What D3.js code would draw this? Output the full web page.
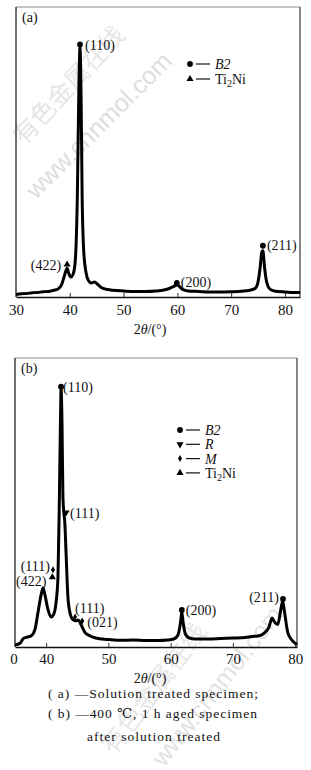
<!DOCTYPE html>
<html>
<head>
<meta charset="utf-8">
<script src="https://cdn.jsdelivr.net/npm/d3@7"></script>
<style>
  body { margin: 0; background: #fff; }
  svg { display: block; font-family: "Liberation Serif", "DejaVu Serif", serif; }
</style>
</head>
<body>
<div id="container"></div>
<script>
/* DATA */
// panel (a): solution treated, [2theta, intensity]
const scanA = [
  [30, 1.0], [31, 1.3], [32, 1.4], [33, 1.7], [34, 1.8], [35, 2.1], [36, 2.2], [37, 2.7],
  [37.8, 3.2], [38.5, 5], [39.0, 8.5], [39.5, 11.5], [39.8, 9.5], [40.2, 8], [40.6, 9],
  [41.0, 14], [41.4, 40], [41.7, 85], [41.9, 100], [42.1, 80], [42.3, 40], [42.6, 18],
  [43.0, 10], [43.5, 6.5], [44.0, 5.6], [44.6, 6.0], [45.2, 5.0], [46, 3.6], [47, 3.0],
  [48, 2.7], [50, 2.4], [52, 2.2], [54, 2.2], [56, 2.4], [57.5, 2.8], [58.5, 3.4],
  [59.3, 4.2], [59.9, 4.8], [60.4, 4.2], [61, 3.0], [62, 2.4], [64, 2.2], [66, 2.0],
  [68, 2.0], [70, 2.1], [72, 2.3], [73.5, 2.7], [74.5, 3.5], [75.0, 6], [75.4, 12],
  [75.7, 18], [75.9, 18.5], [76.2, 12], [76.6, 6], [77.2, 3.2], [78, 2.4], [80, 2.0],
  [82, 1.8], [82.8, 1.8]
];
// panel (b): 400 C, 1 h aged
const scanB = [
  [35, 0.8], [35.8, 1.5], [36.4, 3.5], [37.0, 4.0], [37.6, 4.5], [38.2, 7], [38.7, 14],
  [39.2, 21], [39.5, 23.7], [39.8, 21], [40.3, 15], [40.8, 12], [41.2, 13], [41.6, 18],
  [41.9, 28], [42.1, 55], [42.3, 90], [42.4, 103.6], [42.55, 90], [42.7, 60], [42.85, 54],
  [43.0, 50], [43.2, 38], [43.5, 20], [43.9, 13], [44.3, 11], [44.8, 10.5], [45.2, 10.8],
  [45.6, 9], [46.2, 6], [47, 4.5], [48, 3.6], [49, 3.2], [50, 3.0], [52, 2.7], [54, 2.8],
  [56, 2.6], [58, 2.6], [59.5, 2.8], [60.5, 3.2], [61.2, 5], [61.6, 10], [61.8, 14],
  [62.0, 10], [62.4, 5], [63, 3.6], [64, 3.2], [66, 3.2], [68, 3.4], [70, 3.6], [72, 3.8],
  [73, 4.2], [74, 4.4], [75, 5.5], [75.8, 8], [76.3, 11.6], [76.7, 10], [77.2, 9],
  [77.7, 15], [78.0, 18.5], [78.3, 14], [78.8, 6], [79.4, 3], [80, 1.5], [80.3, 1.0]
];
// peak markers: [2theta, intensity, phase, label]
const peaksA = [
  [41.9, 101, "B2", "(110)"],
  [39.5, 13, "Ti2Ni", "(422)"],
  [59.9, 5.6, "B2", "(200)"],
  [75.9, 20.5, "B2", "(211)"]
];
const peaksB = [
  [42.4, 104.5, "B2", "(110)"],
  [43.2, 54, "R", "(111)"],
  [41.1, 31, "M", "(111)"],
  [41.0, 28, "Ti2Ni", "(422)"],
  [44.65, 12, "M", "(111)"],
  [45.8, 10.4, "M", "(021)"],
  [61.8, 14.9, "B2", "(200)"],
  [78.05, 19.3, "B2", "(211)"]
];
const phasesA = ["B2", "Ti2Ni"];
const phasesB = ["B2", "R", "M", "Ti2Ni"];
const ticks = [30, 40, 50, 60, 70, 80];
const captionLines = [
  "( a) —Solution treated specimen;",
  "( b) —400 ℃, 1 h aged specimen",
  "after solution treated"
];

/* LAYOUT */
const W = 311, H = 770;
const svg = d3.select("#container").append("svg")
  .attr("width", W).attr("height", H);
svg.append("rect").attr("width", W).attr("height", H).attr("fill", "#fff");

// WATERMARKS (faint)
const wm = svg.append("g").attr("fill", "#e3e3e3")
  .style("font-family", "'Noto Sans CJK SC', sans-serif");
wm.append("text").attr("transform", "translate(24,146) rotate(-47)")
  .style("font-size", "25px").attr("fill", "#e6e6e6").text("有色金属在线");
wm.append("text").attr("transform", "translate(36,200) rotate(-45)")
  .style("font-size", "25px").style("font-family", "Arial, 'Liberation Sans', sans-serif")
  .attr("fill", "#dedede").text("www.cnnmol.com");
wm.append("text").attr("transform", "translate(114,756) rotate(-53)")
  .style("font-size", "26px").attr("fill", "#e8e8e8").text("有色金属在线");
wm.append("text").attr("transform", "translate(164,768) rotate(-52)")
  .style("font-size", "25px").style("font-family", "Arial, 'Liberation Sans', sans-serif")
  .attr("fill", "#e2e2e2").text("www.cnnmol.com");

const symbolFor = {
  B2: d3.symbol().type(d3.symbolCircle).size(26),
  R: d3.symbol().type(d3.symbolTriangle).size(22),
  M: d3.symbol().type(d3.symbolDiamond).size(14),
  Ti2Ni: d3.symbol().type(d3.symbolTriangle).size(22)
};
const rotFor = { B2: 0, R: 180, M: 0, Ti2Ni: 0 };

function phaseText(sel, p) {
  if (p === "Ti2Ni") {
    sel.append("tspan").text("Ti");
    sel.append("tspan").attr("dy", 3).style("font-size", "10px").text("2");
    sel.append("tspan").attr("dy", -3).text("Ni");
  } else {
    sel.append("tspan").style("font-style", "italic").text(p);
  }
}

function panel(cfg) {
  const x = d3.scaleLinear().domain(cfg.xDomain).range([cfg.left, cfg.right]);
  const y = d3.scaleLinear().domain([0, 116]).range([cfg.bottom, cfg.top]);
  const g = svg.append("g");

  // frame
  g.append("line").attr("x1", cfg.left).attr("x2", cfg.right)
    .attr("y1", cfg.top).attr("y2", cfg.top).attr("stroke", "#8a8a8a").attr("stroke-width", 1.2);
  g.append("line").attr("x1", cfg.left).attr("x2", cfg.left)
    .attr("y1", cfg.top).attr("y2", cfg.bottom).attr("stroke", "#222").attr("stroke-width", 1.3);
  g.append("line").attr("x1", cfg.right).attr("x2", cfg.right)
    .attr("y1", cfg.top).attr("y2", cfg.bottom).attr("stroke", "#444").attr("stroke-width", 1.3);

  // x axis with inward ticks
  const axis = g.append("g").attr("transform", `translate(0,${cfg.bottom})`)
    .call(d3.axisBottom(x).tickValues(cfg.ticks).tickSizeInner(-4).tickSizeOuter(0).tickPadding(cfg.pad));
  axis.select(".domain").attr("stroke", "#111").attr("stroke-width", 1.5);
  axis.selectAll(".tick line").attr("stroke", "#333");
  axis.selectAll("text").style("font-size", "15px").attr("fill", "#111")
    .style("font-family", "'Liberation Serif', serif");
  if (cfg.edgeLabel) {
    g.append("text").attr("x", cfg.left - 1).attr("y", cfg.bottom + cfg.pad + 10.6)
      .attr("text-anchor", "middle").style("font-size", "15px").attr("fill", "#111")
      .text(cfg.edgeLabel);
  }

  // axis title
  const t = g.append("text").attr("x", 150).attr("y", cfg.bottom + cfg.titleDy)
    .attr("text-anchor", "middle").style("font-size", "14px").attr("fill", "#111");
  t.append("tspan").text("2");
  t.append("tspan").style("font-style", "italic").text("θ");
  t.append("tspan").text("/(°)");

  // curve
  const line = d3.line().x(d => x(d[0])).y(d => y(d[1])).curve(d3.curveMonotoneX);
  g.append("path").datum(cfg.scan).attr("d", line)
    .attr("fill", "none").attr("stroke", "#000").attr("stroke-width", 3)
    .attr("stroke-linejoin", "round");

  // panel letter
  g.append("text").attr("x", cfg.left + 6).attr("y", cfg.top + 15)
    .style("font-size", "14px").attr("fill", "#111").text(cfg.letter);

  // peak markers and labels
  cfg.peaks.forEach((p, i) => {
    const px = x(p[0]), py = y(p[1]);
    g.append("path").attr("d", symbolFor[p[2]]())
      .attr("transform", `translate(${px},${py}) rotate(${rotFor[p[2]]})`)
      .attr("fill", "#000");
    const lp = cfg.labelPos[i];
    g.append("text").attr("x", px + lp[0]).attr("y", py + lp[1])
      .attr("text-anchor", lp[2] || "start")
      .style("font-size", "14px").attr("fill", "#111").text(p[3]);
  });

  // legend
  cfg.phases.forEach((p, i) => {
    const ly = cfg.legend[1] + i * cfg.legend[2];
    const lx = cfg.legend[0];
    g.append("path").attr("d", symbolFor[p]())
      .attr("transform", `translate(${lx},${ly}) rotate(${rotFor[p]})`).attr("fill", "#000");
    g.append("line").attr("x1", lx + 6).attr("x2", lx + 20).attr("y1", ly).attr("y2", ly)
      .attr("stroke", "#111").attr("stroke-width", 1.2);
    const tt = g.append("text").attr("x", lx + 25).attr("y", ly + 5)
      .style("font-size", "14px").attr("fill", "#111");
    phaseText(tt, p);
  });
}

panel({
  letter: "(a)", scan: scanA, peaks: peaksA, phases: phasesA,
  xDomain: [30, 82.8], ticks: ticks, pad: 7, titleDy: 37,
  left: 16, right: 300, top: 7, bottom: 297,
  legend: [190, 64, 15],
  labelPos: [[5, 5], [-6, 5, "end"], [4, 4], [4, 4]]
});

panel({
  letter: "(b)", scan: scanB, peaks: peaksB, phases: phasesB,
  xDomain: [35, 80.3], ticks: ticks.slice(1), edgeLabel: "0", pad: 6, titleDy: 36,
  left: 15, right: 297, top: 358, bottom: 647,
  legend: [180, 430, 14.3],
  labelPos: [[2, 5], [4, 6], [-3, 1, "end"], [-6, 9, "end"], [0, -4], [5, 6], [4, 5], [-4, 3, "end"]]
});

// caption
const cap = svg.append("g").style("font-size", "13.5px").attr("fill", "#111");
cap.append("text").attr("x", 48).attr("y", 698).attr("textLength", 210).text(captionLines[0]);
cap.append("text").attr("x", 48).attr("y", 718).attr("textLength", 209).text(captionLines[1]);
cap.append("text").attr("x", 87).attr("y", 741).attr("textLength", 133).text(captionLines[2]);
</script>
</body>
</html>
